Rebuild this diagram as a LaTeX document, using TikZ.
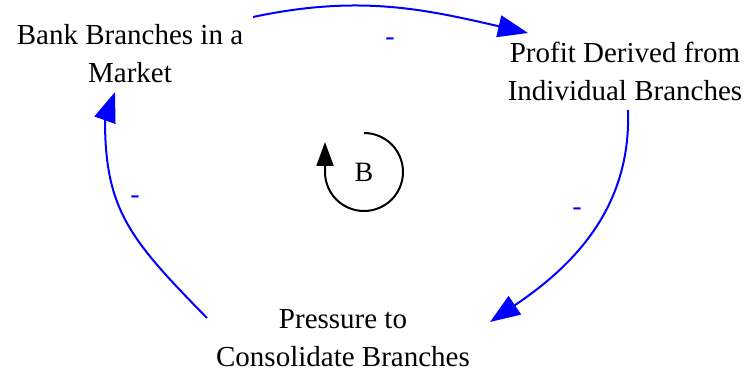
\documentclass[tikz,border=0pt]{standalone}
\usepackage{fontspec}
\setmainfont{Liberation Serif}
\usetikzlibrary{arrows.meta}
\tikzset{
  var/.style={align=center, font=\fontsize{29}{38}\selectfont, inner sep=0pt},
  link/.style={draw=blue, line width=2pt, -{Triangle[length=30pt,width=22pt]}},
  sign/.style={text=blue, font=\fontsize{28}{28}\selectfont},
  loopline/.style={draw=black, line width=2pt}
}
\begin{document}
\begin{tikzpicture}[x=1pt,y=1pt]
\useasboundingbox (0,0) rectangle (748,373);
\node[var] (bank) at (130,319) {Bank Branches in a\\Market};
\node[var] (profit) at (625,302) {Profit Derived from\\Individual Branches};
\node[var] (press) at (343,35) {Pressure to\\Consolidate Branches};
\coordinate (a1s) at (253,356);
\coordinate (a1e) at (528,340);
\coordinate (a2s) at (628,263);
\coordinate (a2e) at (490,51);
\coordinate (a3s) at (207,55);
\coordinate (a3m) at (105,253);
\coordinate (a3e) at (115,281);
\draw[link] (a1s) to[out=12,in=167] (a1e);
\draw[link] (a2s) to[out=-88,in=34] (a2e);
\draw[link] (a3s) .. controls (130,133.5) and (105,163) .. (a3m) -- (a3e);
\node[sign] (m1) at (390,331) {-};
\node[sign] (m2) at (577,161) {-};
\node[sign] (m3) at (135,173) {-};
\coordinate (lc) at (364,201);
\node (B) at (lc) {\fontsize{28}{28}\selectfont B};
\draw[loopline, -{Triangle[length=24pt,width=17pt]}] (364,240) arc[start angle=90,end angle=-180,radius=39] -- ++(0,30);
\end{tikzpicture}
\end{document}
